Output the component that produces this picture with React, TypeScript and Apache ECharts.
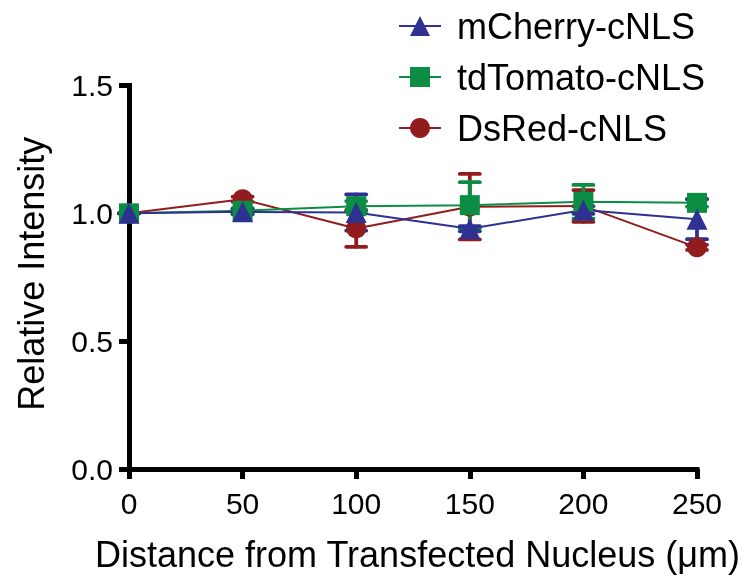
import React, { useEffect, useRef } from "react";
import * as echarts from "echarts";

const distances = [0, 50, 100, 150, 200, 250];
const yTicks = [0, 0.5, 1.0, 1.5];

const mCherryMean = [1.0, 1.006, 1.003, 0.94, 1.013, 0.977];
const mCherrySd = [0, 0.01, 0.071, 0.01, 0.015, 0.078];

const tdTomatoMean = [1.0, 1.01, 1.028, 1.032, 1.045, 1.041];
const tdTomatoSd = [0, 0.01, 0.02, 0.09, 0.066, 0.015];

const dsRedMean = [1.0, 1.055, 0.941, 1.026, 1.029, 0.867];
const dsRedSd = [0, 0.01, 0.072, 0.128, 0.062, 0.01];

const BLUE = "#2E3192";
const GREEN = "#0B8E44";
const RED = "#921B1E";
const FONT = "Liberation Sans, Arial, sans-serif";

function errSeries(name: string, means: number[], sds: number[], color: string) {
  return {
    type: "custom",
    name: name + "-err",
    data: distances.map((d, i) => [d, means[i], sds[i]]),
    encode: { x: 0, y: 1 },
    silent: true,
    renderItem: (params: any, api: any) => {
      const x = api.value(0);
      const y = api.value(1);
      const sd = api.value(2);
      const top = api.coord([x, y + sd]);
      const bot = api.coord([x, y - sd]);
      const hw = 10;
      const st = { stroke: color, lineWidth: 3.8, lineCap: "round" };
      return {
        type: "group",
        children: [
          { type: "line", shape: { x1: top[0], y1: top[1], x2: bot[0], y2: bot[1] }, style: st },
          { type: "line", shape: { x1: top[0] - hw, y1: top[1], x2: top[0] + hw, y2: top[1] }, style: st },
          { type: "line", shape: { x1: bot[0] - hw, y1: bot[1], x2: bot[0] + hw, y2: bot[1] }, style: st },
        ],
      };
    },
  };
}

function lineSeries(name: string, means: number[], color: string, symbol: string, size: number) {
  return {
    type: "line",
    name,
    data: distances.map((d, i) => [d, means[i]]),
    symbol,
    symbolSize: size,
    showAllSymbol: true,
    lineStyle: { color, width: 2 },
    itemStyle: { color },
  };
}

export default function App() {
  const ref = useRef<HTMLDivElement>(null);
  useEffect(() => {
    if (!ref.current) return;
    const chart = echarts.init(ref.current, undefined, { renderer: "svg" });
    chart.setOption({
      animation: false,
      textStyle: { fontFamily: FONT, color: "#000" },
      grid: { left: 129, right: 49, top: 85.5, bottom: 110, containLabel: false },
      legend: {
        orient: "vertical",
        left: 393,
        top: 3,
        itemWidth: 42,
        itemHeight: 25,
        itemGap: 15,
        data: ["mCherry-cNLS", "tdTomato-cNLS", "DsRed-cNLS"],
        textStyle: { fontSize: 36, lineHeight: 36, color: "#000", fontFamily: FONT, padding: [0, 0, 0, 11] },
      },
      xAxis: {
        type: "value",
        min: 0,
        max: 250,
        interval: 50,
        name: "Distance from Transfected Nucleus (μm)",
        nameLocation: "middle",
        nameGap: 67,
        nameTextStyle: { fontSize: 36, color: "#000", fontFamily: FONT, padding: [0, 0, 0, 9] },
        axisLine: { show: true, onZero: false, lineStyle: { color: "#000", width: 5, cap: "square" } },
        axisTick: { show: true, length: 10, lineStyle: { color: "#000", width: 5 } },
        axisLabel: { fontSize: 30, color: "#000", margin: 19, fontFamily: FONT },
        splitLine: { show: false },
      },
      yAxis: {
        type: "value",
        min: yTicks[0],
        max: yTicks[yTicks.length - 1],
        interval: 0.5,
        name: "Relative Intensity",
        nameLocation: "middle",
        nameGap: 80,
        nameTextStyle: { fontSize: 36, color: "#000", fontFamily: FONT, padding: [0, 0, 0, 7] },
        axisLine: { show: true, onZero: false, lineStyle: { color: "#000", width: 5, cap: "square" } },
        axisTick: { show: true, length: 10, lineStyle: { color: "#000", width: 5 } },
        axisLabel: { fontSize: 30, color: "#000", margin: 16, fontFamily: FONT, formatter: (v: number) => v.toFixed(1) },
        splitLine: { show: false },
      },
      series: [
        errSeries("DsRed-cNLS", dsRedMean, dsRedSd, RED),
        lineSeries("DsRed-cNLS", dsRedMean, RED, "circle", 20),
        errSeries("tdTomato-cNLS", tdTomatoMean, tdTomatoSd, GREEN),
        lineSeries("tdTomato-cNLS", tdTomatoMean, GREEN, "rect", 20),
        errSeries("mCherry-cNLS", mCherryMean, mCherrySd, BLUE),
        lineSeries("mCherry-cNLS", mCherryMean, BLUE, "triangle", 21),
      ],
    });
    return () => chart.dispose();
  }, []);
  return <div ref={ref} style={{ position: "fixed", left: 0, top: 0, width: 746, height: 579 }} />;
}
